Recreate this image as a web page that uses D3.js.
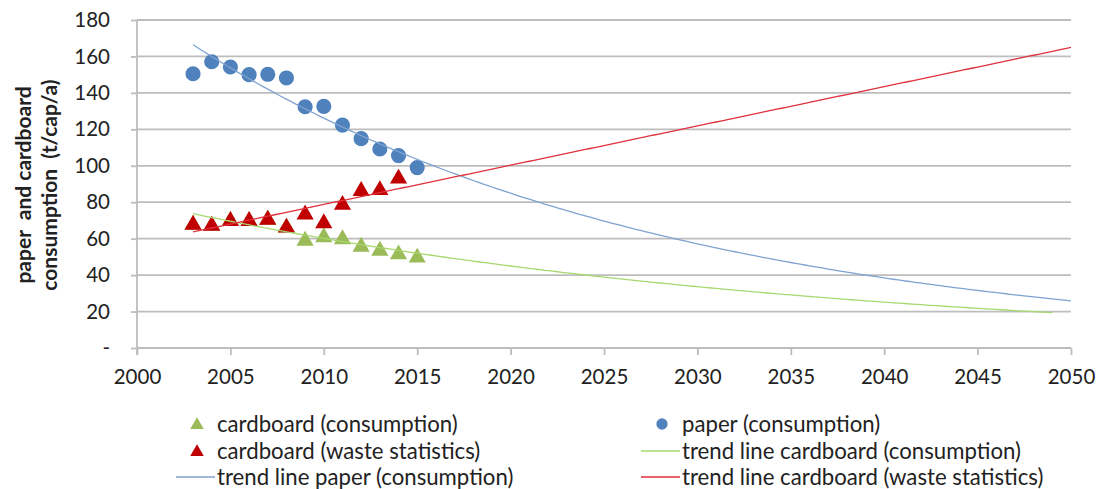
<!DOCTYPE html>
<html>
<head>
<meta charset="utf-8">
<script src="https://cdn.jsdelivr.net/npm/d3@7"></script>
<style>
  html, body { margin: 0; padding: 0; background: #fff; }
  svg { display: block; }
  text { font-family: Lato, "Open Sans", sans-serif; fill: #222; }
</style>
</head>
<body>
<svg id="chart" width="1099" height="489"></svg>
<script>
// Per-capita paper and cardboard consumption, observed values (t/cap/a)
const paperYears = [2003, 2004, 2005, 2006, 2007, 2008, 2009, 2010, 2011, 2012, 2013, 2014, 2015];
const paperValues = [150.5, 157.1, 154.2, 150.0, 150.2, 148.2, 132.4, 132.6, 122.3, 114.9, 109.2, 105.6, 99.0];

const cardboardConsYears = [2003, 2004, 2005, 2006, 2007, 2008, 2009, 2010, 2011, 2012, 2013, 2014, 2015];
const cardboardConsValues = [68.5, 67.9, 70.5, 70.5, 71.2, 66.9, 59.7, 61.6, 60.5, 56.4, 54.2, 52.2, 50.4];

const cardboardWasteYears = [2003, 2004, 2005, 2006, 2007, 2008, 2009, 2010, 2011, 2012, 2013, 2014];
const cardboardWasteValues = [68.5, 67.9, 70.5, 70.5, 71.2, 66.9, 74.1, 69.3, 79.4, 87.0, 87.5, 93.8];

// Trend line extents (years)
const paperTrendRange = [2003, 2050];
const cardboardConsTrendRange = [2003, 2049];
const cardboardWasteTrendRange = [2003, 2050];

const xTicks = [2000, 2005, 2010, 2015, 2020, 2025, 2030, 2035, 2040, 2045, 2050];
const yTicks = [0, 20, 40, 60, 80, 100, 120, 140, 160, 180];

const legendLabels = [
  "cardboard (consumption)", "paper (consumption)",
  "cardboard (waste statistics)", "trend line cardboard (consumption)",
  "trend line paper (consumption)", "trend line cardboard (waste statistics)"
];

const COL = {
  paper: "#4F81BD", cardCons: "#9BBB59", cardWaste: "#C00000",
  tPaper: "#7FA3D1", tCardCons: "#A6D86E", tCardWaste: "#E0313C",
  grid: "#BDBDBD"
};

// Least-squares fits
function linearFit(xs, ys) {
  const n = xs.length, mx = d3.mean(xs), my = d3.mean(ys);
  let sxy = 0, sxx = 0;
  for (let i = 0; i < n; i++) { sxy += (xs[i] - mx) * (ys[i] - my); sxx += (xs[i] - mx) ** 2; }
  const b = sxy / sxx, a = my - b * mx;
  return x => a + b * x;
}
function expFit(xs, ys) {
  const f = linearFit(xs, ys.map(Math.log));
  return x => Math.exp(f(x));
}
function sample(fn, range) {
  const pts = [];
  for (let x = range[0]; x <= range[1] + 1e-9; x += 0.25) pts.push([x, fn(x)]);
  return pts;
}

const svg = d3.select("#chart");

const x = d3.scaleLinear().domain([2000, 2050]).range([137, 1071]);
const y = d3.scaleLinear().domain([0, 180]).range([348, 20]);

// Horizontal grid lines
svg.append("g").selectAll("line").data(yTicks.filter(d => d > 0)).join("line")
  .attr("x1", x(2000)).attr("x2", x(2050))
  .attr("y1", d => y(d)).attr("y2", d => y(d))
  .attr("stroke", COL.grid).attr("stroke-width", 1.8);

// Y axis
const yAxis = svg.append("g").attr("transform", `translate(${x(2000)},0)`)
  .call(d3.axisLeft(y).tickValues(yTicks).tickSize(6).tickPadding(21)
    .tickFormat(d => d === 0 ? "-" : d));
// X axis
const xAxis = svg.append("g").attr("transform", `translate(0,${y(0)})`)
  .call(d3.axisBottom(x).tickValues(xTicks).tickSize(7).tickPadding(14).tickFormat(d3.format("d")));

[yAxis, xAxis].forEach(g => {
  g.select(".domain").attr("stroke", COL.grid).attr("stroke-width", 1.8);
  g.selectAll(".tick line").attr("stroke", COL.grid).attr("stroke-width", 1.8);
  g.selectAll(".tick text").style("font-size", "20.5px").attr("fill", "#222");
});
xAxis.select(".domain").attr("d", `M${x(2000)},0H${x(2050)}`);
yAxis.select(".domain").attr("d", `M0,${y(180)}V${y(0) + 7}`);

// Y axis title
const yTitle = svg.append("text")
  .attr("transform", `translate(37,185) rotate(-90)`)
  .attr("text-anchor", "middle")
  .style("font-size", "21px").style("font-weight", "bold");
yTitle.append("tspan").attr("x", 0).attr("dy", "-0.3em").attr("xml:space", "preserve").text("paper  and cardboard");
yTitle.append("tspan").attr("x", 0).attr("dy", "1.25em").attr("xml:space", "preserve").text("consumption  (t/cap/a)");

// Markers
const tri = d3.symbol().type(d3.symbolTriangle).size(128);
const circ = d3.symbol().type(d3.symbolCircle).size(180);

svg.append("g").selectAll("path").data(d3.zip(cardboardConsYears, cardboardConsValues)).join("path")
  .attr("d", tri).attr("transform", d => `translate(${x(d[0])},${y(d[1]) + 1.5})`).attr("fill", COL.cardCons);

svg.append("g").selectAll("path").data(d3.zip(paperYears, paperValues)).join("path")
  .attr("d", circ).attr("transform", d => `translate(${x(d[0])},${y(d[1])})`).attr("fill", COL.paper);

svg.append("g").selectAll("path").data(d3.zip(cardboardWasteYears, cardboardWasteValues)).join("path")
  .attr("d", tri).attr("transform", d => `translate(${x(d[0])},${y(d[1]) + 1.5})`).attr("fill", COL.cardWaste);

// Trend lines
const line = d3.line().x(d => x(d[0])).y(d => y(d[1]));
const trends = [
  { fn: expFit(cardboardConsYears, cardboardConsValues), range: cardboardConsTrendRange, color: COL.tCardCons },
  { fn: expFit(paperYears, paperValues), range: paperTrendRange, color: COL.tPaper },
  { fn: linearFit(cardboardWasteYears, cardboardWasteValues), range: cardboardWasteTrendRange, color: COL.tCardWaste }
];
trends.forEach(t => {
  svg.append("path").datum(sample(t.fn, t.range)).attr("d", line)
    .attr("fill", "none").attr("stroke", t.color).attr("stroke-width", 1.3);
});

// Legend
const legendItems = [
  { kind: "tri", color: COL.cardCons },
  { kind: "circ", color: COL.paper },
  { kind: "tri", color: COL.cardWaste },
  { kind: "line", color: COL.tCardCons },
  { kind: "line", color: COL.tPaper },
  { kind: "line", color: COL.tCardWaste }
];
const colX = [197, 662];
const rowY = [424, 451, 477];
const lg = svg.append("g");
legendItems.forEach((it, i) => {
  const cx = colX[i % 2], cy = rowY[Math.floor(i / 2)];
  const g = lg.append("g").attr("transform", `translate(${cx},${cy})`);
  if (it.kind === "tri") g.append("path").attr("d", d3.symbol().type(d3.symbolTriangle).size(80)).attr("transform", "translate(0,1)").attr("fill", it.color);
  else if (it.kind === "circ") g.append("path").attr("d", d3.symbol().type(d3.symbolCircle).size(100)).attr("fill", it.color);
  else g.append("line").attr("x1", -21).attr("x2", 18).attr("stroke", it.color).attr("stroke-width", 1.5);
  g.append("text").attr("x", 20).attr("y", 0).attr("dy", "0.35em")
    .style("font-size", "22.2px").text(legendLabels[i]);
});
</script>
</body>
</html>
